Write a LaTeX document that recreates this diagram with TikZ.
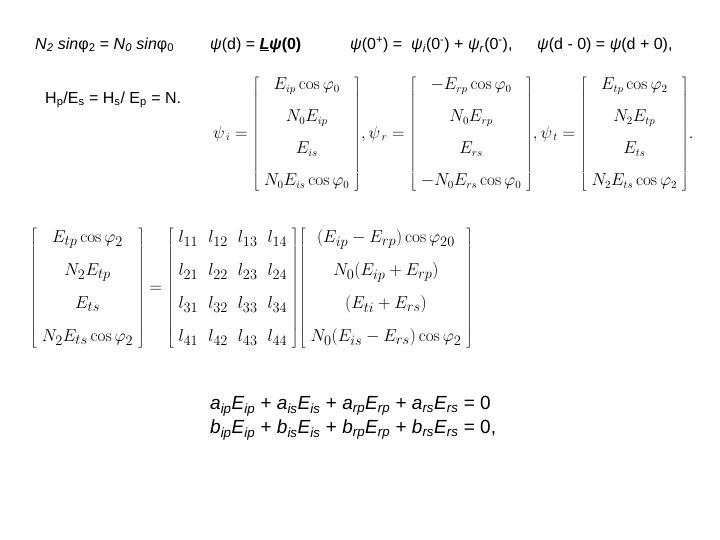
\documentclass[tikz,border=0pt]{standalone}
\usepackage[no-math]{fontspec}
\setmainfont{Liberation Sans}
\begin{document}
\begin{tikzpicture}[x=1pt,y=-1pt,
  txt/.style={anchor=west,inner sep=0pt,font=\fontsize{16}{19}\selectfont},
  mx/.style={anchor=west,inner sep=0pt,font=\fontsize{16}{19}\selectfont}]
\useasboundingbox (0,0) rectangle (720,540);
\node[txt] (t1) at (35,45) {\textit{N}\textsubscript{\textit{2}} \textit{sin}φ\textsubscript{2} = \textit{N}\textsubscript{\textit{0}} \textit{sin}φ\textsubscript{0}};
\node[txt] (t2) at (210,45) {\textit{ψ}(d) = \textbf{\underline{\textit{L}}\textit{ψ}(0)}};
\node[txt] (t3) at (350,45) {\textit{ψ}(0\textsuperscript{+}) = \ \textit{ψ}\textsubscript{\textit{i}}(0\textsuperscript{-}) + \textit{ψ}\textsubscript{\textit{r}}(0\textsuperscript{-}),};
\node[txt] (t4) at (537,45) {\textit{ψ}(d - 0) = \textit{ψ}(d + 0),};
\node[txt] (t5) at (45,100) {H\textsubscript{p}/E\textsubscript{s} = H\textsubscript{s}/ E\textsubscript{p} = N.};
\node[mx] (m1) at (213,134) {$\psi_{\,i}=\left[\begin{array}{c}E_{ip}\cos\varphi_0\\[13pt] N_0E_{ip}\\[13pt] E_{is}\\[13pt] N_0E_{is}\cos\varphi_0\end{array}\right]\!,\psi_{\,r}=\left[\begin{array}{c}-E_{rp}\cos\varphi_0\\[13pt] N_0E_{rp}\\[13pt] E_{rs}\\[13pt] -N_0E_{rs}\cos\varphi_0\end{array}\right]\!,\psi_{\,t}=\left[\begin{array}{c}E_{tp}\cos\varphi_2\\[13pt] N_2E_{tp}\\[13pt] E_{ts}\\[13pt] N_2E_{ts}\cos\varphi_2\end{array}\right]\!.$};
\node[mx,font=\fontsize{19}{22}\selectfont] (m2) at (30,288) {$\left[\begin{array}{c}E_{tp}\cos\varphi_2\\[11pt] N_2E_{tp}\\[11pt] E_{ts}\\[11pt] N_2E_{ts}\cos\varphi_2\end{array}\right]=\left[\begin{array}{cccc}l_{11}&l_{12}&l_{13}&l_{14}\\[11pt] l_{21}&l_{22}&l_{23}&l_{24}\\[11pt] l_{31}&l_{32}&l_{33}&l_{34}\\[11pt] l_{41}&l_{42}&l_{43}&l_{44}\end{array}\right]\!\left[\begin{array}{c}(E_{ip}-E_{rp})\cos\varphi_{20}\\[11pt] N_0(E_{ip}+E_{rp})\\[11pt] (E_{ti}+E_{rs})\\[11pt] N_0(E_{is}-E_{rs})\cos\varphi_2\end{array}\right]$};
\node[txt,font=\fontsize{19}{22}\selectfont] (e1) at (210,406) {\textit{a}\textsubscript{\textit{ip}}\textit{E}\textsubscript{\textit{ip}} + \textit{a}\textsubscript{\textit{is}}\textit{E}\textsubscript{\textit{is}} + \textit{a}\textsubscript{\textit{rp}}\textit{E}\textsubscript{\textit{rp}} + \textit{a}\textsubscript{\textit{rs}}\textit{E}\textsubscript{\textit{rs}} = 0};
\node[txt,font=\fontsize{19}{22}\selectfont] (e2) at (210,430) {\textit{b}\textsubscript{\textit{ip}}\textit{E}\textsubscript{\textit{ip}} + \textit{b}\textsubscript{\textit{is}}\textit{E}\textsubscript{\textit{is}} + \textit{b}\textsubscript{\textit{rp}}\textit{E}\textsubscript{\textit{rp}} + \textit{b}\textsubscript{\textit{rs}}\textit{E}\textsubscript{\textit{rs}} = 0,};
\end{tikzpicture}
\end{document}
